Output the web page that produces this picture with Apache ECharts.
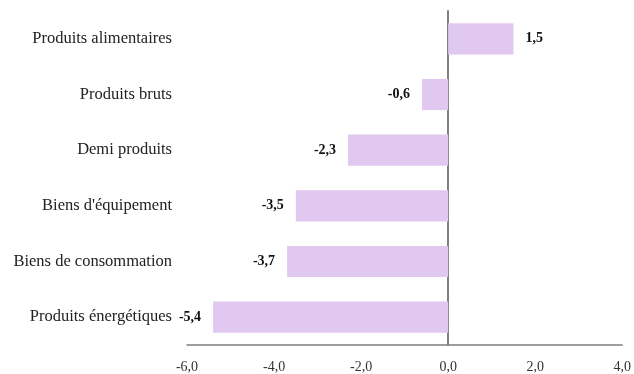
<!DOCTYPE html>
<html>
<head>
<meta charset="utf-8">
<script src="https://cdn.jsdelivr.net/npm/echarts@6/dist/echarts.min.js"></script>
<style>
  html, body { margin: 0; padding: 0; background: #fff; }
  #chart { width: 634px; height: 374px; }
</style>
</head>
<body>
<div id="chart"></div>
<script>
// Categories listed top to bottom
const categories = [
  'Produits alimentaires',
  'Produits bruts',
  'Demi produits',
  "Biens d'équipement",
  'Biens de consommation',
  'Produits énergétiques'
];
const values = [1.5, -0.6, -2.3, -3.5, -3.7, -5.4];
const xTicks = { min: -6, max: 4, interval: 2 };

const fmt = v => v.toFixed(1).replace('.', ',');
const font = '"Liberation Serif", "DejaVu Serif", serif';

const chart = echarts.init(document.getElementById('chart'));
chart.setOption({
  animation: false,
  grid: { left: 187, right: 11, top: 11, bottom: 29, containLabel: false },
  xAxis: {
    type: 'value',
    min: xTicks.min, max: xTicks.max, interval: xTicks.interval,
    splitLine: { show: false },
    axisLine: { show: true, onZero: false, lineStyle: { color: '#7f7f7f', width: 1.5 } },
    axisTick: { show: false },
    axisLabel: { formatter: fmt, fontFamily: font, fontSize: 14, color: '#333', margin: 15 }
  },
  yAxis: {
    type: 'category',
    data: categories,
    inverse: true,
    axisLine: { show: true, onZero: true, lineStyle: { color: '#7f7f7f', width: 2 } },
    axisTick: { show: false },
    axisLabel: { fontFamily: font, fontSize: 16.5, color: '#222', margin: 15, padding: [4, 0, 0, 0] }
  },
  series: [{
    type: 'bar',
    barCategoryGap: '44%',
    itemStyle: { color: '#e1c8f0' },
    data: values.map(v => ({
      value: v,
      label: { position: v >= 0 ? 'right' : 'left' }
    })),
    label: {
      show: true,
      formatter: p => fmt(p.value),
      fontFamily: font,
      fontWeight: 'bold',
      fontSize: 14,
      color: '#111',
      distance: 12,
      padding: [4, 0, 0, 0]
    }
  }]
});
</script>
</body>
</html>
